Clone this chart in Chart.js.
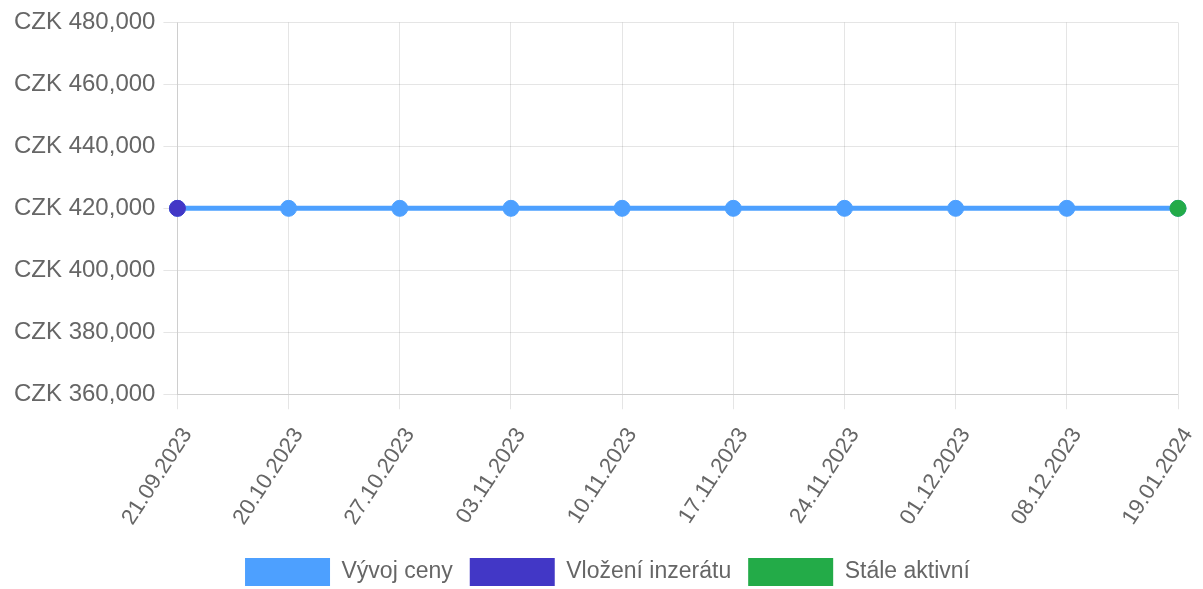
<!DOCTYPE html>
<html>
<head>
<meta charset="utf-8">
<script src="https://cdn.jsdelivr.net/npm/chart.js@4/dist/chart.umd.min.js"></script>
<style>
  html, body { margin: 0; padding: 0; background: #fff; }
  #wrap { width: 1203px; height: 589px; }
</style>
</head>
<body>
<div id="wrap"><canvas id="price-chart"></canvas></div>
<script>
const dates = ['21.09.2023', '20.10.2023', '27.10.2023', '03.11.2023', '10.11.2023',
  '17.11.2023', '24.11.2023', '01.12.2023', '08.12.2023', '19.01.2024']
const prices = [420000, 420000, 420000, 420000, 420000, 420000, 420000, 420000, 420000, 420000]
const listed = [420000, null, null, null, null, null, null, null, null, null]
const active = [null, null, null, null, null, null, null, null, null, 420000]
const yTicks = { min: 360000, max: 480000, step: 20000 }

const blue = '#4da0ff'
const indigo = '#4237c6'
const green = '#23ab48'

Chart.defaults.font.family = '"Liberation Sans", Arial, sans-serif'
Chart.defaults.font.size = 22
Chart.defaults.color = '#666'

const ctx = document.getElementById('price-chart')
new Chart(ctx, {
  type: 'line',
  data: {
    labels: dates,
    datasets: [
      {
        label: 'Vývoj ceny',
        data: prices,
        order: 2,
        borderColor: blue,
        backgroundColor: blue,
        borderWidth: 5,
        pointRadius: 8,
        pointBackgroundColor: blue,
        pointBorderColor: blue,
        pointBorderWidth: 1,
        tension: 0
      },
      {
        label: 'Vložení inzerátu',
        data: listed,
        order: 1,
        borderColor: indigo,
        backgroundColor: indigo,
        pointRadius: 8,
        pointBackgroundColor: indigo,
        pointBorderColor: indigo,
        showLine: false
      },
      {
        label: 'Stále aktivní',
        data: active,
        order: 1,
        borderColor: green,
        backgroundColor: green,
        pointRadius: 8,
        pointBackgroundColor: green,
        pointBorderColor: green,
        showLine: false
      }
    ]
  },
  options: {
    responsive: true,
    maintainAspectRatio: false,
    animation: false,
    layout: { padding: { left: 6, right: -6, top: 13, bottom: -7 } },
    plugins: {
      legend: {
        position: 'bottom',
        labels: {
          boxWidth: 85,
          boxHeight: 28,
          padding: 17,
          font: { size: 23 },
          sort: (a, b) => a.datasetIndex - b.datasetIndex,
          generateLabels: chart => {
            // plain filled boxes, no outline
            const items = Chart.defaults.plugins.legend.labels.generateLabels(chart)
            items.forEach(item => { item.lineWidth = 0 })
            return items
          }
        }
      },
      tooltip: { enabled: false }
    },
    scales: {
      x: {
        grid: { color: 'rgba(0,0,0,0.1)', tickLength: 15 },
        ticks: { minRotation: 57, maxRotation: 57, padding: 14, labelOffset: 10, autoSkip: false },
        afterFit: scale => {
          scale.height -= 3
          scale.paddingRight = 25
        }
      },
      y: {
        min: yTicks.min,
        max: yTicks.max,
        grid: { color: 'rgba(0,0,0,0.1)', tickLength: 14 },
        ticks: {
          stepSize: yTicks.step,
          padding: 8,
          font: { size: 24 },
          callback: value => 'CZK ' + value.toLocaleString('en-US')
        }
      }
    }
  }
})
</script>
</body>
</html>
